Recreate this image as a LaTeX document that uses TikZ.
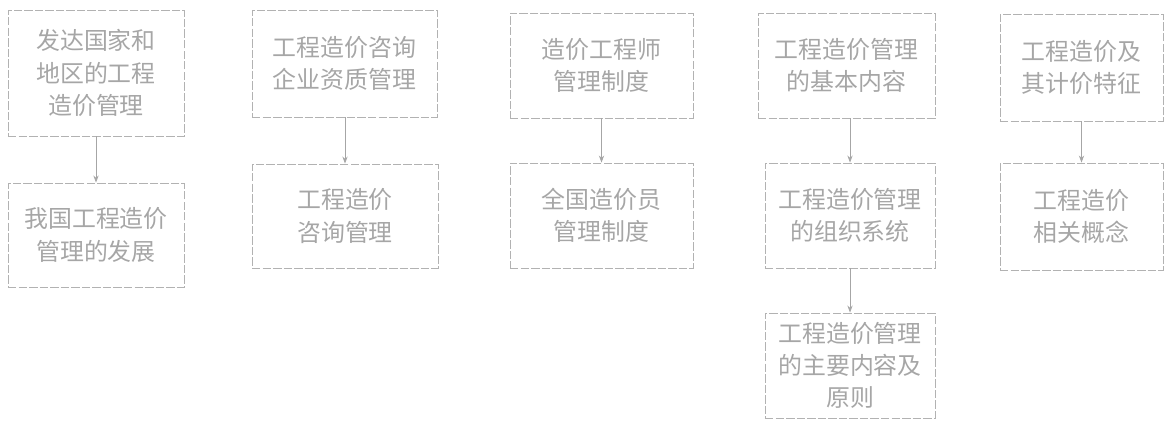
\documentclass[tikz,border=0pt]{standalone}
\usepackage{fontspec}
\newfontfamily\cjk{Noto Sans CJK SC}
\usetikzlibrary{arrows.meta}

\begin{document}
\begin{tikzpicture}[x=0.025cm,y=-0.025cm,line width=0.6pt,>={Stealth[length=5pt]},
  box/.style={draw=black!30,dash pattern=on 6pt off 1.5pt,text=black!35,align=center,
    font=\cjk\fontsize{17}{23}\selectfont,inner sep=0pt},
  link/.style={draw=black!35,->}]
\useasboundingbox (0,0) rectangle (1175,438);
% column of the history part
\node[box,minimum width=4.4cm,minimum height=3.15cm] (g1) at (96,73) {发达国家和\\地区的工程\\造价管理};
\node[box,minimum width=4.4cm,minimum height=2.6cm] (g2) at (96,235) {我国工程造价\\管理的发展};
% consulting
\node[box,minimum width=4.625cm,minimum height=2.675cm] (z1) at (344.5,63.5) {工程造价咨询\\企业资质管理};
\node[box,minimum width=4.65cm,minimum height=2.6cm] (z2) at (345,216) {工程造价\\咨询管理};
% cost engineers
\node[box,minimum width=4.575cm,minimum height=2.625cm] (s1) at (601.5,65.5) {造价工程师\\管理制度};
\node[box,minimum width=4.575cm,minimum height=2.625cm] (s2) at (601.5,215.5) {全国造价员\\管理制度};
% management
\node[box,minimum width=4.425cm,minimum height=2.625cm] (m1) at (846.5,65.5) {工程造价管理\\的基本内容};
\node[box,minimum width=4.25cm,minimum height=2.625cm] (m2) at (850,215.5) {工程造价管理\\的组织系统};
\node[box,minimum width=4.25cm,minimum height=2.625cm] (m3) at (850,365.5) {工程造价管理\\的主要内容及\\原则};
% basics
\node[box,minimum width=4.075cm,minimum height=2.675cm] (j1) at (1081.5,67.5) {工程造价及\\其计价特征};
\node[box,minimum width=4.075cm,minimum height=2.675cm] (j2) at (1081.5,216.5) {工程造价\\相关概念};
\foreach \a/\b in {g1/g2,z1/z2,s1/s2,m1/m2,m2/m3,j1/j2}{\draw[link] (\b |- \a.south) -- (\b);};
\end{tikzpicture}
\end{document}
